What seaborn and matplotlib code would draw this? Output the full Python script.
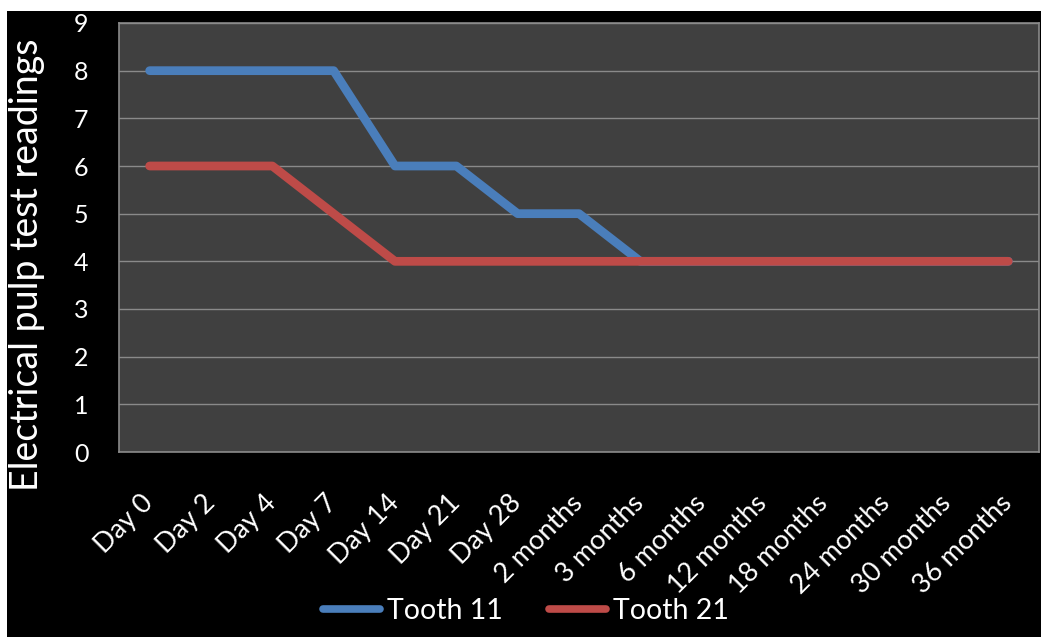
import matplotlib
matplotlib.use("Agg")
import matplotlib.pyplot as plt
import seaborn as sns
import pandas as pd
from matplotlib.patches import Rectangle

timepoints = ["Day 0", "Day 2", "Day 4", "Day 7", "Day 14", "Day 21", "Day 28",
              "2 months", "3 months", "6 months", "12 months", "18 months",
              "24 months", "30 months", "36 months"]
tooth_11 = [8, 8, 8, 8, 6, 6, 5, 5, 4, 4, 4, 4, 4, 4, 4]
tooth_21 = [6, 6, 6, 5, 4, 4, 4, 4, 4, 4, 4, 4, 4, 4, 4]
series_names = ["Tooth 11", "Tooth 21"]
y_ticks = list(range(0, 10))

df = pd.DataFrame({
    "time": timepoints * 2,
    "pos": list(range(len(timepoints))) * 2,
    "reading": tooth_11 + tooth_21,
    "tooth": [series_names[0]] * len(timepoints) + [series_names[1]] * len(timepoints),
})

sns.set_theme(style="dark")
plt.rcParams["font.family"] = ["Lato", "DejaVu Sans"]

fig = plt.figure(figsize=(10.45, 6.37), dpi=100, facecolor="white")
# black panel behind the chart
fig.patches.append(Rectangle((7 / 1045, 0), (1041 - 7) / 1045, (637 - 11) / 637,
                             transform=fig.transFigure, facecolor="black",
                             edgecolor="none", zorder=-10))

ax = fig.add_axes([119 / 1045, 1 - 452 / 637, (1039 - 119) / 1045, (452 - 23) / 637])
ax.set_zorder(1)
ax.set_facecolor("#404040")

palette = {"Tooth 11": "#4a7ebb", "Tooth 21": "#be4b48"}
sns.lineplot(data=df, x="pos", y="reading", hue="tooth", palette=palette,
             sort=False, linewidth=6.3, ax=ax, legend=True)
for line in ax.lines:
    line.set_solid_capstyle("round")
    line.set_solid_joinstyle("round")

ax.set_xlim(-0.5, len(timepoints) - 0.5)
ax.set_ylim(0, 9)
ax.set_yticks(y_ticks)
ax.set_yticklabels([str(v) for v in y_ticks], color="white", fontsize=18)
ax.set_xticks(range(len(timepoints)))
ax.set_xticklabels(timepoints, rotation=45, ha="right", va="center",
                   rotation_mode="anchor", color="white", fontsize=19.5)
ax.tick_params(axis="x", length=0, pad=34)
ax.tick_params(axis="y", length=0, pad=22)

ax.grid(axis="y", color="#8a8a8a", linewidth=1.0)
ax.grid(axis="x", visible=False)
ax.set_axisbelow(True)
for s in ax.spines.values():
    s.set_visible(True)
    s.set_color("#8a8a8a")
    s.set_linewidth(1.2)

ax.set_xlabel("")
ax.set_ylabel("Electrical pulp test readings", color="white", fontsize=27)
ax.yaxis.set_label_coords((45 - 119) / 920, 0.436)

handles, labels = ax.get_legend_handles_labels()
ax.legend(handles, labels, loc="center", bbox_to_anchor=(526 / 1045, 1 - 611 / 637),
          bbox_transform=fig.transFigure, ncol=2, frameon=False, fontsize=20.5,
          labelcolor="white", handlelength=2.0, handletextpad=0.25, columnspacing=1.6)
for h in ax.get_legend().get_lines():
    h.set_linewidth(5.5)

fig.savefig("out.png", dpi=100, facecolor=fig.get_facecolor())
